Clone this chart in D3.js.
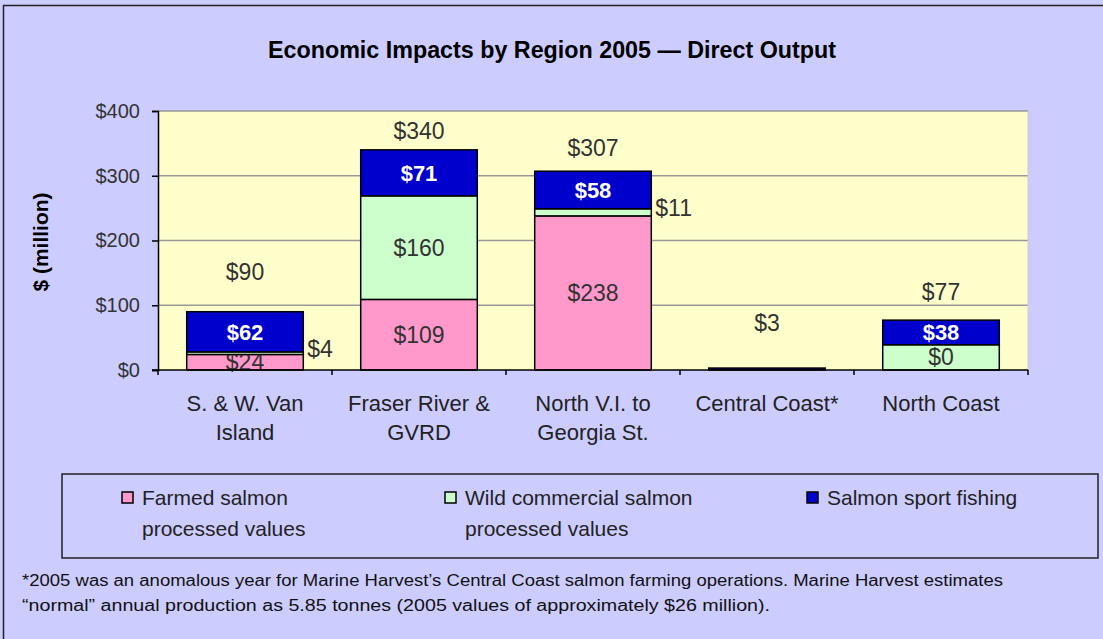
<!DOCTYPE html>
<html>
<head>
<meta charset="utf-8">
<script src="https://cdn.jsdelivr.net/npm/d3@7"></script>
<style>
  body { margin: 0; background: #ccccff; }
  svg { display: block; font-family: "Liberation Sans", Arial, sans-serif; }
</style>
</head>
<body>
<svg id="chart" width="1103" height="639"></svg>
<script>
// data
const regions = [["S. & W. Van", "Island"], ["Fraser River &", "GVRD"], ["North V.I. to", "Georgia St."], ["Central Coast*"], ["North Coast"]];
const farmed = [24, 109, 238, 0, 0];
const wild = [4, 160, 11, 0, 39];
const sport = [62, 71, 58, 3, 38];
const totals = [90, 340, 307, 3, 77];
const farmedLabels = ["$24", "$109", "$238", "", ""];
const wildLabels = ["$4", "$160", "$11", "", "$0"];
const sportLabels = ["$62", "$71", "$58", "", "$38"];
const yTicks = [0, 100, 200, 300, 400];
const seriesNames = [["Farmed salmon", "processed values"], ["Wild commercial salmon", "processed values"], ["Salmon sport fishing"]];
const colors = ["#ff99cc", "#ccffcc", "#0000cc"];

// how far (px) each total label sits above its bar, as placed in the original
const totalLabelLift = [40, 19, 23, 45, 28];

function createStackedChart() {
    const size = { left: 158, right: 1028, top: 111, bottom: 370 };
    const svg = d3.select("#chart");

    // outer frame
    svg.append("rect").attr("x", 3.5).attr("y", 5.5).attr("width", 1110).attr("height", 650)
        .attr("fill", "#ccccff").attr("stroke", "#222").attr("stroke-width", 1.5);

    svg.append("text")
        .attr("x", 552).attr("y", 58)
        .attr("text-anchor", "middle")
        .attr("font-size", 23).attr("font-weight", "bold")
        .attr("textLength", 568).attr("lengthAdjust", "spacingAndGlyphs")
        .text("Economic Impacts by Region 2005 \u2014 Direct Output");

    const x = d3.scaleBand().domain(d3.range(regions.length)).range([size.left, size.right]).paddingInner(0.33).paddingOuter(0.165);
    const y = d3.scaleLinear().domain([0, 400]).range([size.bottom, size.top]);

    svg.append("rect").attr("x", size.left).attr("y", size.top)
        .attr("width", size.right - size.left).attr("height", size.bottom - size.top)
        .attr("fill", "#ffffcc");

    svg.append("g").selectAll("line").data(yTicks.slice(1)).join("line")
        .attr("x1", size.left).attr("x2", size.right)
        .attr("y1", d => y(d)).attr("y2", d => y(d))
        .attr("stroke", "#999").attr("stroke-width", 1.5);
    svg.append("line").attr("x1", size.right).attr("x2", size.right)
        .attr("y1", size.top).attr("y2", size.bottom).attr("stroke", "#ccc");

    // stacks
    const rows = regions.map((r, i) => ({ i, farmed: farmed[i], wild: wild[i], sport: sport[i] }));
    const stack = d3.stack().keys(["farmed", "wild", "sport"])(rows);
    const labelSets = [farmedLabels, wildLabels, sportLabels];

    stack.forEach((layer, k) => {
        svg.append("g").selectAll("rect").data(layer.filter(d => d[1] > d[0])).join("rect")
            .attr("x", d => x(d.data.i))
            .attr("y", d => y(d[1]))
            .attr("width", x.bandwidth())
            .attr("height", d => y(d[0]) - y(d[1]))
            .attr("fill", colors[k])
            .attr("stroke", "#000").attr("stroke-width", 1.5);

        // segment labels
        layer.forEach((d, i) => {
            const txt = labelSets[k][i];
            if (!txt) return;
            const h = y(d[0]) - y(d[1]);
            const mid = (y(d[0]) + y(d[1])) / 2;
            const outside = h < 12;
            svg.append("text")
                .attr("x", outside ? x(i) + x.bandwidth() + 4 : x(i) + x.bandwidth() / 2)
                .attr("y", outside ? mid + 4 : mid + 8)
                .attr("text-anchor", outside ? "start" : "middle")
                .attr("font-size", k === 2 ? 22 : 23)
                .attr("font-weight", k === 2 ? "bold" : "normal")
                .attr("fill", k === 2 ? "#fff" : "#333")
                .text(txt);
        });
    });

    // totals above bars
    svg.append("g").selectAll("text").data(totals).join("text")
        .attr("x", (d, i) => x(i) + x.bandwidth() / 2)
        .attr("y", (d, i) => y(d) - totalLabelLift[i] + 8)
        .attr("text-anchor", "middle")
        .attr("font-size", 23).attr("fill", "#333")
        .text(d => "$" + d);

    // axes
    const yAxis = svg.append("g").attr("transform", `translate(${size.left},0)`)
        .call(d3.axisLeft(y).tickValues(yTicks).tickSize(6).tickPadding(12).tickFormat(d => "$" + d));
    yAxis.selectAll("text").attr("font-size", 20).attr("fill", "#333").attr("font-family", "Liberation Sans");
    yAxis.selectAll("line, path").attr("stroke", "#000").attr("stroke-width", 1.5);

    const xAxis = svg.append("g").attr("transform", `translate(0,${size.bottom})`);
    xAxis.append("line").attr("x1", size.left - 6).attr("x2", size.right)
        .attr("stroke", "#000").attr("stroke-width", 1.5);
    xAxis.selectAll("line.tick").data(d3.range(regions.length + 1)).join("line")
        .attr("class", "tick")
        .attr("x1", i => size.left + i * (size.right - size.left) / regions.length)
        .attr("x2", i => size.left + i * (size.right - size.left) / regions.length)
        .attr("y1", 0).attr("y2", 5).attr("stroke", "#000").attr("stroke-width", 1.5);
    regions.forEach((lines, i) => {
        const t = xAxis.append("text").attr("text-anchor", "middle").attr("font-size", 22).attr("fill", "#222");
        lines.forEach((s, j) => t.append("tspan").attr("x", x(i) + x.bandwidth() / 2).attr("y", 41 + j * 29).text(s));
    });

    svg.append("text")
        .attr("transform", "rotate(-90)")
        .attr("x", -242).attr("y", 48)
        .attr("text-anchor", "middle")
        .attr("font-size", 21).attr("font-weight", "bold")
        .text("$ (million)");

    // legend
    svg.append("rect").attr("x", 62).attr("y", 474).attr("width", 1036).attr("height", 84)
        .attr("fill", "none").attr("stroke", "#222").attr("stroke-width", 1.5);
    const legendX = [122, 445, 807];
    seriesNames.forEach((lines, k) => {
        svg.append("rect").attr("x", legendX[k]).attr("y", 492).attr("width", 11).attr("height", 11)
            .attr("fill", colors[k]).attr("stroke", "#000").attr("stroke-width", 1.5);
        const t = svg.append("text").attr("font-size", 21).attr("fill", "#222");
        lines.forEach((s, j) => t.append("tspan").attr("x", legendX[k] + 20).attr("y", 505 + j * 31).text(s));
    });

    // footnote
    const foot = svg.append("text").attr("font-size", 16).attr("fill", "#111");
    foot.append("tspan").attr("x", 22).attr("y", 586)
        .attr("textLength", 981).attr("lengthAdjust", "spacingAndGlyphs")
        .text("*2005 was an anomalous year for Marine Harvest\u2019s Central Coast salmon farming operations. Marine Harvest estimates");
    foot.append("tspan").attr("x", 22).attr("y", 611)
        .attr("textLength", 748).attr("lengthAdjust", "spacingAndGlyphs")
        .text("\u201cnormal\u201d annual production as 5.85 tonnes (2005 values of approximately $26 million).");
}

createStackedChart();
</script>
</body>
</html>
